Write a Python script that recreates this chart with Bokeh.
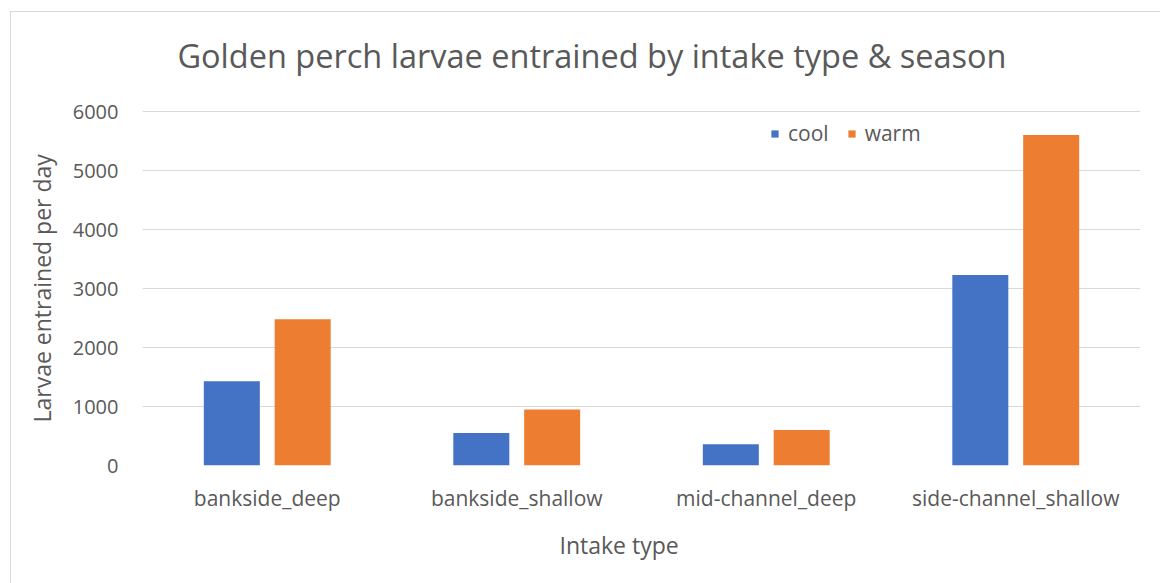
from bokeh.plotting import figure
from bokeh.models import ColumnDataSource, FactorRange, FixedTicker, Legend, LegendItem, Title, Label
from bokeh.transform import dodge
from bokeh.embed import file_html
from bokeh.resources import INLINE

categories = ["bankside_deep", "bankside_shallow", "mid-channel_deep", "side-channel_shallow"]
cool = [1430, 550, 360, 3230]
warm = [2480, 950, 600, 5600]
y_ticks = [0, 1000, 2000, 3000, 4000, 5000, 6000]
title_text = "Golden perch larvae entrained by intake type & season"

FONT = "Open Sans"
TXT = "#595959"
GRID = "#d9d9d9"
BLUE = "#4472C4"
ORANGE = "#ED7D31"

source = ColumnDataSource(data=dict(cat=categories, cool=cool, warm=warm))

# plot area extends above the 6000 gridline so that the chart title can sit inside it
p = figure(
    width=1150, height=572,
    x_range=FactorRange(factors=categories, range_padding=0),
    y_range=(0, 7407),
    output_backend="svg", toolbar_location=None,
    min_border_left=131, min_border_right=21, min_border_top=16, min_border_bottom=119,
)
p.margin = (11, 0, 0, 10)
p.styles = {"border-top": "1px solid #d9d9d9", "border-left": "1px solid #d9d9d9"}

r1 = p.vbar(x=dodge("cat", -0.142, range=p.x_range), top="cool", width=0.2245,
            source=source, fill_color=BLUE, line_color=None)
r2 = p.vbar(x=dodge("cat", 0.142, range=p.x_range), top="warm", width=0.2245,
            source=source, fill_color=ORANGE, line_color=None)

p.outline_line_color = None
p.xgrid.grid_line_color = None
p.ygrid.grid_line_color = GRID
p.ygrid.grid_line_width = 1

p.yaxis.ticker = FixedTicker(ticks=y_ticks)
for ax in (p.xaxis, p.yaxis):
    ax.axis_line_color = None
    ax.major_tick_line_color = None
    ax.minor_tick_line_color = None
    ax.major_label_text_font = FONT
    ax.major_label_text_color = TXT

p.yaxis.major_label_standoff = 18
p.yaxis.major_label_text_font_size = "20px"
p.xaxis.major_label_text_font_size = "21px"
p.xaxis.major_label_standoff = 12

title = Label(text=title_text, x=0.14, y=6950, x_units="data", y_units="data",
              text_align="left", text_baseline="alphabetic",
              text_font=FONT, text_font_size="32.5px", text_color=TXT)
p.add_layout(title)

yt = Title(text="Larvae entrained per day", align="left", offset=43, text_font=FONT,
           text_font_size="23px", text_font_style="normal", text_color=TXT, standoff=24)
p.add_layout(yt, "left")

xt = Title(text="Intake type", align="left", offset=417, text_font=FONT,
           text_font_size="23px", text_font_style="normal", text_color=TXT, standoff=24)
p.add_layout(xt, "below")

legend = Legend(items=[LegendItem(label="cool", renderers=[r1]),
                       LegendItem(label="warm", renderers=[r2])],
                orientation="horizontal", location=(628, 318),
                glyph_width=9, glyph_height=9, label_standoff=9, spacing=18,
                padding=0, margin=0, border_line_color=None, background_fill_alpha=0,
                label_text_font=FONT, label_text_font_size="21px", label_text_color=TXT)
p.add_layout(legend, "center")

open("out.html", "w").write(file_html(p, INLINE))
